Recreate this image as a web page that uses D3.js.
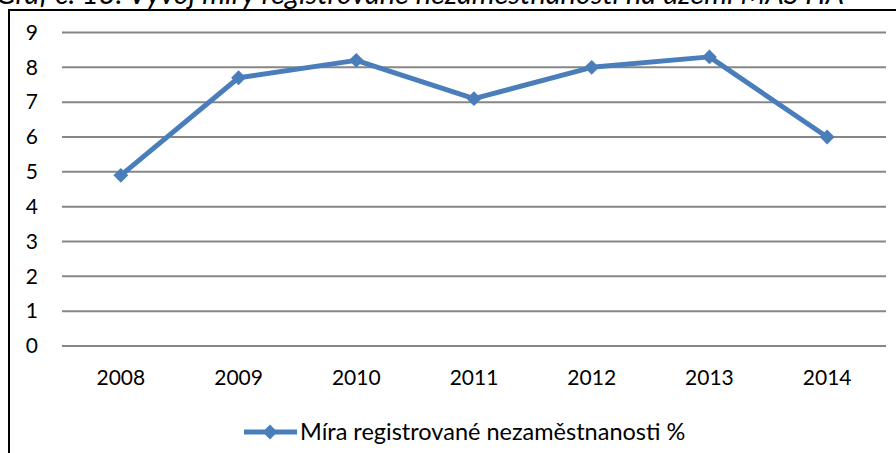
<!DOCTYPE html>
<html><head><meta charset="utf-8">
<script src="https://cdn.jsdelivr.net/npm/d3@7"></script>
<style>body{margin:0;background:#fff;} svg{display:block;font-family:Lato,"Open Sans",sans-serif;}</style>
</head><body>
<svg id="c" width="896" height="453"></svg>
<script>
const titleText = "Graf č. 13: Vývoj míry registrované nezaměstnanosti na území MAS HA";
const categories = ["2008","2009","2010","2011","2012","2013","2014"];
const values = [4.9, 7.7, 8.2, 7.1, 8.0, 8.3, 6.0];
const yTicks = [0,1,2,3,4,5,6,7,8,9];
const seriesName = "Míra registrované nezaměstnanosti %";

const svg = d3.select("#c");
const color = "#4A7EBB";

// title (cut off at top, as in the reference)
svg.append("text").attr("x", -4).attr("y", 4)
  .attr("font-style","italic").attr("font-size", 29).attr("fill","#000")
  .text(titleText);

// frame
svg.append("path").attr("d","M9,460 V10 H900").attr("fill","none").attr("stroke","#000").attr("stroke-width",2);

const x = d3.scaleBand().domain(categories).range([62, 886]);
const y = d3.scaleLinear().domain([0, 9]).range([346, 32.5]);

// gridlines
svg.append("g").selectAll("line").data(yTicks).join("line")
  .attr("x1", 62).attr("x2", 886)
  .attr("y1", d => y(d)).attr("y2", d => y(d))
  .attr("stroke", "#868686").attr("stroke-width", 2);

// y axis labels
const yAxis = d3.axisLeft(y).tickValues(yTicks).tickSize(0).tickPadding(0);
const gy = svg.append("g").attr("transform","translate(38,0)").call(yAxis);
gy.select(".domain").remove();
gy.selectAll("text").attr("font-size", 21).attr("font-family","Lato").attr("fill","#000");

// x axis labels
const xAxis = d3.axisBottom(x).tickSize(0).tickPadding(0);
const gx = svg.append("g").attr("transform","translate(0,370)").call(xAxis);
gx.select(".domain").remove();
gx.selectAll("text").attr("font-size", 21).attr("font-family","Lato").attr("fill","#000").attr("dy","0.71em");

// line
const line = d3.line().x((d,i) => x(categories[i]) + x.bandwidth()/2).y(d => y(d));
svg.append("path").datum(values).attr("d", line)
  .attr("fill","none").attr("stroke", color).attr("stroke-width", 5).attr("stroke-linejoin","round");

svg.append("g").selectAll("path").data(values).join("path")
  .attr("transform", (d,i) => `translate(${x(categories[i]) + x.bandwidth()/2},${y(d)}) rotate(45)`)
  .attr("d", d3.symbol().type(d3.symbolSquare).size(110)())
  .attr("fill", color);

// legend
const lg = svg.append("g");
lg.append("line").attr("x1",244).attr("x2",297).attr("y1",432).attr("y2",432)
  .attr("stroke",color).attr("stroke-width",5);
lg.append("path").attr("transform","translate(270,432) rotate(45)")
  .attr("d", d3.symbol().type(d3.symbolSquare).size(110)()).attr("fill",color);
lg.append("text").attr("x",300).attr("y",432).attr("dy","0.35em")
  .attr("font-size",23.5).attr("fill","#000").text(seriesName);
</script>
</body></html>
